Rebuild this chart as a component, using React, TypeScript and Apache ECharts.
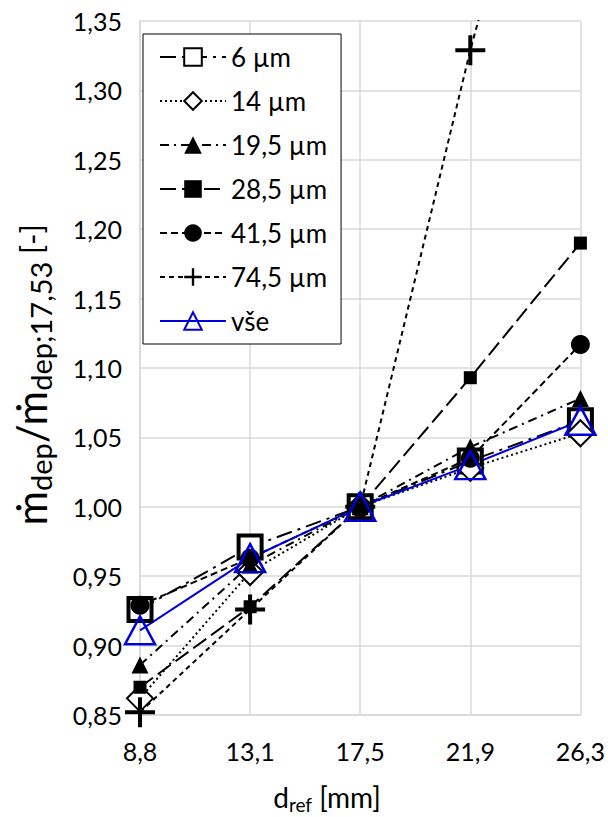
import React, { useEffect, useRef } from "react";
import * as echarts from "echarts";

const categories = ["8,8", "13,1", "17,5", "21,9", "26,3"];
const seriesNames = ["6 µm", "14 µm", "19,5 µm", "28,5 µm", "41,5 µm", "74,5 µm", "vše"];
const s6 = [0.926, 0.971, 1.0, 1.033, 1.062];
const s14 = [0.862, 0.953, 1.0, 1.028, 1.053];
const s195 = [0.886, 0.958, 1.0, 1.043, 1.078];
const s285 = [0.87, 0.928, 1.0, 1.093, 1.19];
const s415 = [0.929, 0.963, 1.0, 1.035, 1.117];
const s745 = [0.852, 0.926, 1.0, 1.329, 1.62];
const sAll = [0.911, 0.963, 1.0, 1.03, 1.062];
const yMin = 0.85;
const yMax = 1.35;
const yStep = 0.05;

const FONT = "Lato, 'Liberation Sans', sans-serif";
const PLUS = "path://M13,0h4v13h13v4h-13v13h-4v-13h-13v-4h13z";
const BLUE = "#0000dd";

export default function App() {
  const ref = useRef<HTMLDivElement>(null);
  useEffect(() => {
    if (!ref.current) return;
    const chart = echarts.init(ref.current, null, { renderer: "svg" });
    const mk = (
      name: string,
      data: number[],
      dash: number[] | string,
      symbol: string,
      size: number | number[],
      fill: string,
      border: string,
      bw: number,
      color = "#000",
      lw = 2
    ) => ({
      name,
      type: "line",
      data,
      symbol,
      symbolSize: size,
      showSymbol: true,
      clip: true,
      lineStyle: { color, width: lw, type: dash },
      itemStyle: { color: fill, borderColor: border, borderWidth: bw },
      emphasis: { disabled: true },
    });
    chart.setOption({
      animation: false,
      grid: { left: 140, right: 27, top: 21, bottom: 102 },
      legend: {
        orient: "vertical",
        left: 143,
        top: 34,
        padding: [10, 14, 10, 16],
        itemWidth: 66,
        itemHeight: 22,
        itemGap: 18,
        backgroundColor: "#fff",
        borderColor: "#000",
        borderWidth: 1,
        borderRadius: 0,
        textStyle: { color: "#000", fontSize: 26, fontFamily: FONT },
        data: seriesNames,
      },
      xAxis: {
        type: "category",
        data: categories,
        boundaryGap: false,
        axisLine: { show: true, lineStyle: { color: "#d9d9d9", width: 1.5 } },
        axisTick: { show: false },
        splitLine: { show: true, lineStyle: { color: "#d9d9d9", width: 1.5 } },
        axisLabel: { color: "#000", fontSize: 25, fontFamily: FONT, margin: 23 },
      },
      yAxis: {
        type: "value",
        min: yMin,
        max: yMax,
        interval: yStep,
        axisLine: { show: true, lineStyle: { color: "#d9d9d9", width: 1.5 } },
        axisTick: { show: false },
        splitLine: { show: true, lineStyle: { color: "#d9d9d9", width: 1.5 } },
        axisLabel: {
          color: "#000",
          fontSize: 25,
          fontFamily: FONT,
          margin: 18,
          formatter: (v: number) => v.toFixed(2).replace(".", ","),
        },
      },
      graphic: [
        {
          type: "text",
          x: 327,
          y: 797,
          style: {
            text: "{m|d}{s|ref}{m| [mm]}",
            align: "center",
            verticalAlign: "middle",
            fill: "#000",
            rich: {
              m: { fontSize: 28, fontFamily: FONT, lineHeight: 34, verticalAlign: "middle", fill: "#000" },
              s: { fontSize: 19, fontFamily: FONT, lineHeight: 19, verticalAlign: "bottom", fill: "#000" },
            },
          },
        },
        {
          type: "text",
          x: 31,
          y: 375,
          rotation: Math.PI / 2,
          style: {
            text: "{m|ṁ}{s|dep}{m|/ṁ}{s|dep;17,53}{u| [-]}",
            align: "center",
            verticalAlign: "middle",
            fill: "#000",
            rich: {
              m: { fontSize: 42, fontFamily: FONT, lineHeight: 48, verticalAlign: "middle", fill: "#000" },
              s: { fontSize: 29, fontFamily: FONT, lineHeight: 29, verticalAlign: "bottom", fill: "#000" },
              u: { fontSize: 30, fontFamily: FONT, lineHeight: 48, verticalAlign: "middle", fill: "#000" },
            },
          },
        },
      ],
      series: [
        mk(seriesNames[0], s6, [16, 6, 3, 6], "rect", 23, "#fff", "#000", 4),
        mk(seriesNames[1], s14, [2, 3], "diamond", 26, "#fff", "#000", 2),
        mk(seriesNames[2], s195, [9, 5, 2, 5], "triangle", 17, "#000", "#000", 0),
        mk(seriesNames[3], s285, [16, 6], "rect", 13, "#000", "#000", 0),
        mk(seriesNames[4], s415, [7, 4], "circle", 19, "#000", "#000", 0),
        mk(seriesNames[5], s745, [5, 4], PLUS, 30, "#000", "#000", 0),
        mk(seriesNames[6], sAll, "solid", "triangle", [30, 28], "rgba(255,255,255,0)", BLUE, 2.5, BLUE, 2),
      ],
    });
    return () => chart.dispose();
  }, []);
  return <div ref={ref} style={{ width: 608, height: 817, position: "absolute", left: 0, top: 0 }} />;
}
